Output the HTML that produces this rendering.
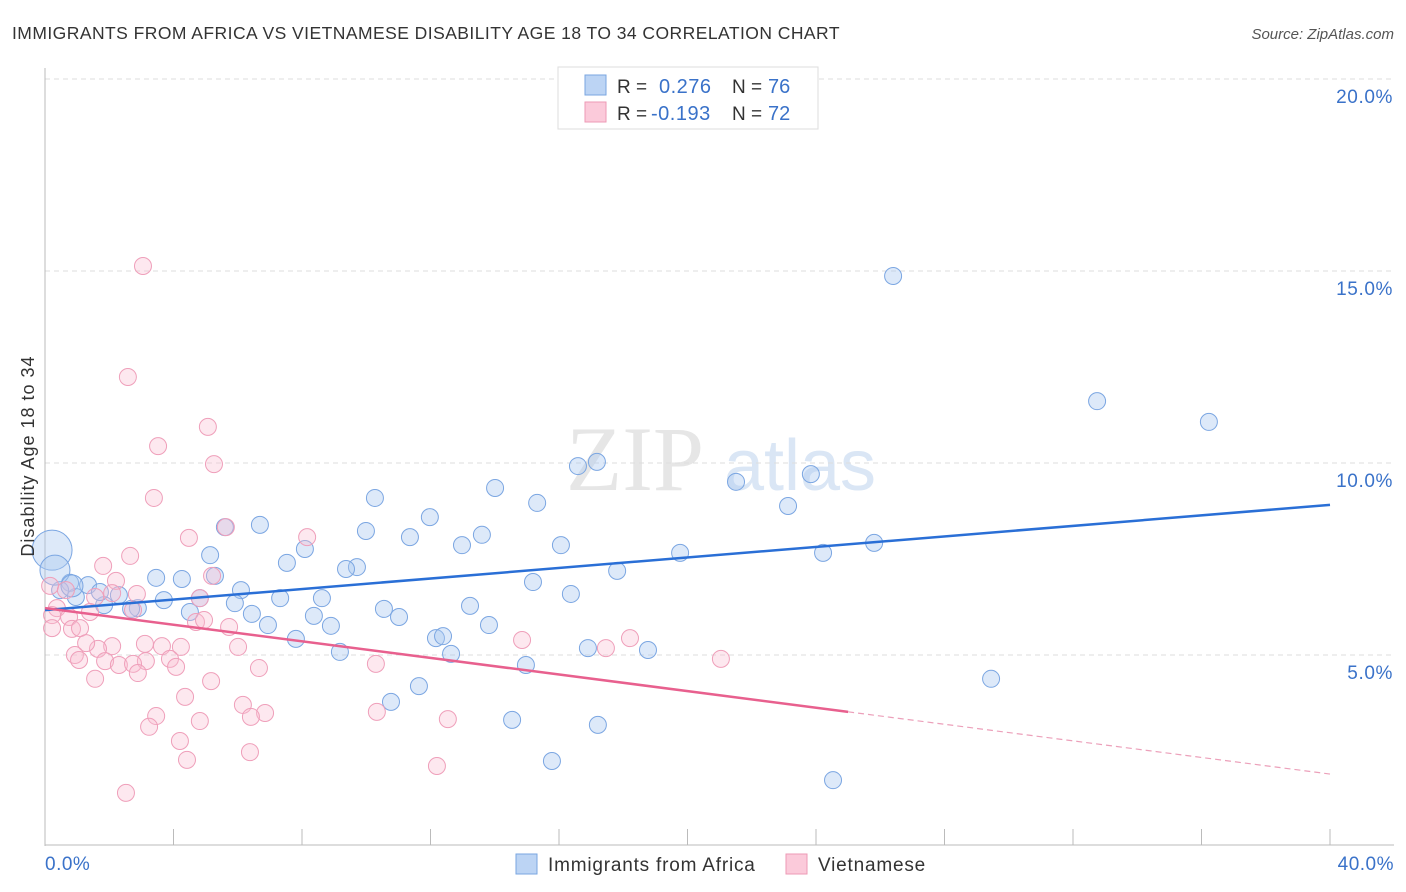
<!DOCTYPE html>
<html><head><meta charset="utf-8"><style>
body{margin:0;background:#fff;font-family:"Liberation Sans",sans-serif;}
svg{display:block}
</style></head><body>
<svg id="c" width="1406" height="892">
<text x="12" y="39" font-size="17.5" letter-spacing="0.45" fill="#333">IMMIGRANTS FROM AFRICA VS VIETNAMESE DISABILITY AGE 18 TO 34 CORRELATION CHART</text>
<text x="1394" y="39" font-size="15" fill="#555" font-style="italic" text-anchor="end">Source: ZipAtlas.com</text>
<text x="635" y="490" font-size="92" fill="#e6e6e6" font-family="Liberation Serif,serif" text-anchor="middle">ZIP</text>
<text x="800" y="490" font-size="72" fill="#dae6f5" text-anchor="middle">atlas</text>
<g id="grid"></g><g id="axes"></g><g id="pts"></g><g id="trend"></g>
<text x="34" y="456" font-size="18" letter-spacing="1" fill="#333" transform="rotate(-90 34 456)" text-anchor="middle">Disability Age 18 to 34</text>
<text x="45" y="870" font-size="19" letter-spacing="0.5" fill="#3a72c9">0.0%</text>
<text x="1394" y="870" font-size="19" letter-spacing="0.5" fill="#3a72c9" text-anchor="end">40.0%</text>
<g>
<rect x="558" y="67" width="260" height="62" fill="#fff" stroke="#ddd"/>
<rect x="585" y="75" width="21" height="20" fill="#bcd4f4" stroke="#7aa6e0"/>
<rect x="585" y="102" width="21" height="20" fill="#fbcada" stroke="#ee9ab5"/>
<text x="617" y="93" font-size="19" fill="#333">R =</text><text x="659" y="93" font-size="20" letter-spacing="0.5" fill="#3a72c9">0.276</text>
<text x="732" y="93" font-size="19" fill="#333">N =</text><text x="768" y="93" font-size="20" fill="#3a72c9">76</text>
<text x="617" y="120" font-size="19" fill="#333">R =</text><text x="651" y="120" font-size="20" letter-spacing="0.5" fill="#3a72c9">-0.193</text>
<text x="732" y="120" font-size="19" fill="#333">N =</text><text x="768" y="120" font-size="20" fill="#3a72c9">72</text>
</g>
<g>
<rect x="516" y="854" width="21" height="20" fill="#bcd4f4" stroke="#7aa6e0"/>
<text x="548" y="871" font-size="19" letter-spacing="0.8" fill="#333">Immigrants from Africa</text>
<rect x="786" y="854" width="21" height="20" fill="#fbcada" stroke="#ee9ab5"/>
<text x="818" y="871" font-size="19" letter-spacing="0.8" fill="#333">Vietnamese</text>
</g>
</svg>
<script>
const yTicks=[5,10,15,20];
const yTickLabels=["5.0%","10.0%","15.0%","20.0%"];
const xTicks=[0,4,8,12,16,20,24,28,32,36,40];
const blueX=[26.4,32.75,36.23,17.18,16.59,21.51,23.84,14.01,10.27,15.32,23.13,11.98,6.69,5.60,9.99,13.60,11.36,12.98,16.06,8.09,19.77,24.22,25.81,5.14,7.53,9.71,9.37,17.81,5.29,3.46,4.26,15.19,6.10,16.37,4.82,8.62,7.32,3.70,5.91,13.23,10.55,2.89,1.84,2.68,2.30,0.96,1.34,0.78,0.47,4.51,6.44,8.37,11.02,6.94,8.90,13.82,12.17,12.39,7.81,16.90,18.77,12.64,9.18,14.97,29.45,11.64,10.77,14.54,17.21,15.78,24.53,0.22,0.31,0.84,1.71];
const blueY=[14.87,11.61,11.07,10.03,9.92,9.51,9.71,9.35,9.09,8.96,8.88,8.59,8.39,8.33,8.23,8.13,8.07,7.86,7.86,7.76,7.66,7.66,7.92,7.60,7.40,7.29,7.24,7.19,7.06,7.01,6.98,6.90,6.69,6.59,6.48,6.48,6.48,6.43,6.35,6.28,6.20,6.22,6.30,6.20,6.56,6.51,6.82,6.88,6.69,6.12,6.07,6.02,5.99,5.78,5.76,5.78,5.44,5.49,5.42,5.18,5.13,5.03,5.08,4.74,4.38,4.19,3.78,3.31,3.18,2.24,1.74,7.73,7.21,6.80,6.64];
const blueSize=blueX.map((_,i)=>i===71?20:(i===72?15:(i===73?11:8.5)));
const pinkX=[3.05,2.58,5.07,3.52,5.26,3.39,5.63,4.48,8.16,2.65,1.81,5.20,0.16,2.21,0.65,2.86,1.56,2.09,4.82,0.37,0.22,0.75,1.40,2.74,4.70,5.73,4.95,0.22,0.84,1.09,3.11,4.23,2.09,6.01,3.64,1.65,1.28,14.85,18.21,17.46,0.93,1.06,1.87,2.30,3.14,3.89,2.74,4.08,6.66,10.30,21.04,2.89,1.56,5.17,4.36,6.16,6.85,3.46,10.33,4.82,6.41,12.54,3.24,4.20,6.38,4.42,12.20,2.52];
const pinkY=[15.13,12.24,10.94,10.44,9.97,9.09,8.33,8.05,8.07,7.58,7.32,7.06,6.80,6.93,6.69,6.59,6.51,6.61,6.48,6.22,6.04,5.99,6.12,6.17,5.86,5.73,5.91,5.70,5.68,5.70,5.29,5.21,5.23,5.21,5.23,5.16,5.31,5.39,5.44,5.18,5.00,4.87,4.84,4.74,4.84,4.90,4.77,4.69,4.66,4.77,4.90,4.53,4.38,4.32,3.91,3.70,3.49,3.41,3.52,3.28,3.39,3.33,3.13,2.76,2.47,2.27,2.11,1.41];
const blueTrend=[6.17,8.91];
const pinkTrend=[6.22,1.90];
const pinkSolidEnd=[25];
const NS='http://www.w3.org/2000/svg';
const X=v=>45+v/40*1285, Y=v=>847-v*38.4;
function mk(t,a,p){const e=document.createElementNS(NS,t);for(const k in a)e.setAttribute(k,a[k]);document.getElementById(p).appendChild(e);return e;}
yTicks.forEach((t,i)=>{
 const l=mk('line',{x1:45,x2:1395,y1:Y(t),y2:Y(t),stroke:'#ddd','stroke-dasharray':'5,4'},'grid');
 
 
 const tx=mk('text',{x:1393,y:Y(t)+24,'font-size':19,'letter-spacing':0.6,fill:'#3a72c9','text-anchor':'end'},'grid');
 tx.textContent=yTickLabels[i];
 
 
});
const ya=mk('line',{x1:45,x2:45,y1:68,y2:846,stroke:'#bbb'},'axes');


const xa=mk('line',{x1:45,x2:1394,y1:845,y2:845,stroke:'#bbb'},'axes');


xTicks.forEach(t=>{const l=mk('line',{x1:X(t),x2:X(t),y1:829,y2:845,stroke:'#bbb'},'axes');
 
 });
blueX.forEach((v,i)=>{const c=mk('circle',{cx:X(v),cy:Y(blueY[i]),r:blueSize[i],fill:'rgba(170,200,240,0.4)',stroke:'#7ba6e2','stroke-width':1},'pts');
 
 });
pinkX.forEach((v,i)=>{const c=mk('circle',{cx:X(v),cy:Y(pinkY[i]),r:8.5,fill:'rgba(248,190,208,0.35)',stroke:'#ef9fba','stroke-width':1},'pts');
 
 });
const bt=mk('line',{x1:X(0),y1:Y(blueTrend[0]),x2:X(40),y2:Y(blueTrend[1]),stroke:'#2a6fd6','stroke-width':2.5},'trend');


const pAt=x=>pinkTrend[0]+(pinkTrend[1]-pinkTrend[0])*x/40;
const pt=mk('line',{x1:X(0),y1:Y(pinkTrend[0]),x2:X(pinkSolidEnd[0]),y2:Y(pAt(pinkSolidEnd[0])),stroke:'#e8608e','stroke-width':2.5},'trend');


const pd=mk('line',{x1:X(pinkSolidEnd[0]),y1:Y(pAt(pinkSolidEnd[0])),x2:X(40),y2:Y(pinkTrend[1]),stroke:'#eca0ba','stroke-width':1.2,'stroke-dasharray':'6,4'},'trend');


</script>
</body></html>
